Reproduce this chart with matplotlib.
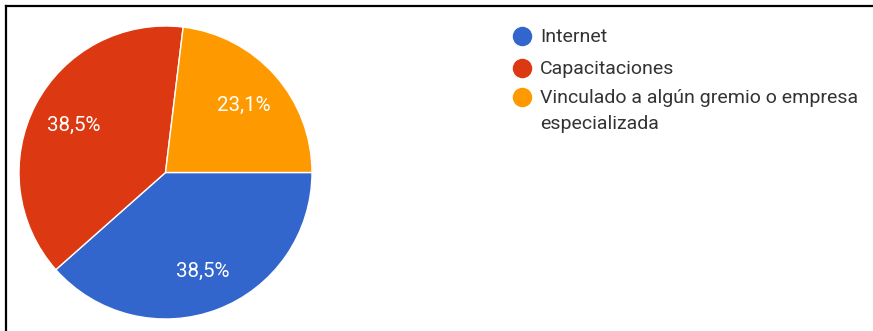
import matplotlib
matplotlib.use("Agg")
import matplotlib.pyplot as plt
from matplotlib.lines import Line2D
import numpy as np

plt.rcParams['font.family'] = ['Roboto', 'DejaVu Sans']

categories = ["Internet", "Capacitaciones", "Vinculado a algún gremio o empresa\nespecializada"]
counts = [5, 5, 3]
pct_labels = ["38,5%", "38,5%", "23,1%"]
colors = ["#3366CC", "#DC3912", "#FF9900"]

W, H = 873, 331
fig = plt.figure(figsize=(W / 100, H / 100), dpi=100)

# pie axes: square area centred on the left part of the panel
cx, cy, r = 165.5, 172.5, 146.5
ax = fig.add_axes([(cx - r) / W, (H - cy - r) / H, 2 * r / W, 2 * r / H])
wedges, _ = ax.pie(counts, colors=colors, startangle=0, counterclock=False,
                   radius=1.0, wedgeprops=dict(edgecolor="white", linewidth=1.0))
ax.set_xlim(-1, 1)
ax.set_ylim(-1, 1)
ax.set_aspect("equal")
ax.axis("off")

# percentage labels placed along each wedge's bisector
total = sum(counts)
start = 0.0
for w, lab in zip(counts, pct_labels):
    sweep = 360.0 * w / total
    mid = np.deg2rad(start - sweep / 2)
    d = 0.71
    ax.text(d * np.cos(mid), d * np.sin(mid) - 0.01, lab, color="white",
            fontsize=14.8, ha="center", va="center")
    start -= sweep

# legend
leg_x_marker = 522 / W
leg_x_text = 540 / W
leg_y = [36, 68, 97]
for y, c, lab in zip(leg_y, colors, categories):
    fig.add_artist(Line2D([leg_x_marker], [1 - y / H], marker="o", markersize=13,
                          color=c, markeredgecolor=c, linestyle="none",
                          transform=fig.transFigure))
    fig.text(leg_x_text, 1 - (y - 8.5) / H, lab, color="#333333", fontsize=14,
             ha="left", va="top", linespacing=1.6)

# panel frame (top and left edges)
fig.add_artist(Line2D([5.5 / W, 1.0], [1 - 6 / H, 1 - 6 / H], color="black",
                      linewidth=1.6, transform=fig.transFigure))
fig.add_artist(Line2D([5.5 / W, 5.5 / W], [0.0, 1 - 6 / H], color="black",
                      linewidth=1.6, transform=fig.transFigure))

fig.savefig("out.png", dpi=100)
